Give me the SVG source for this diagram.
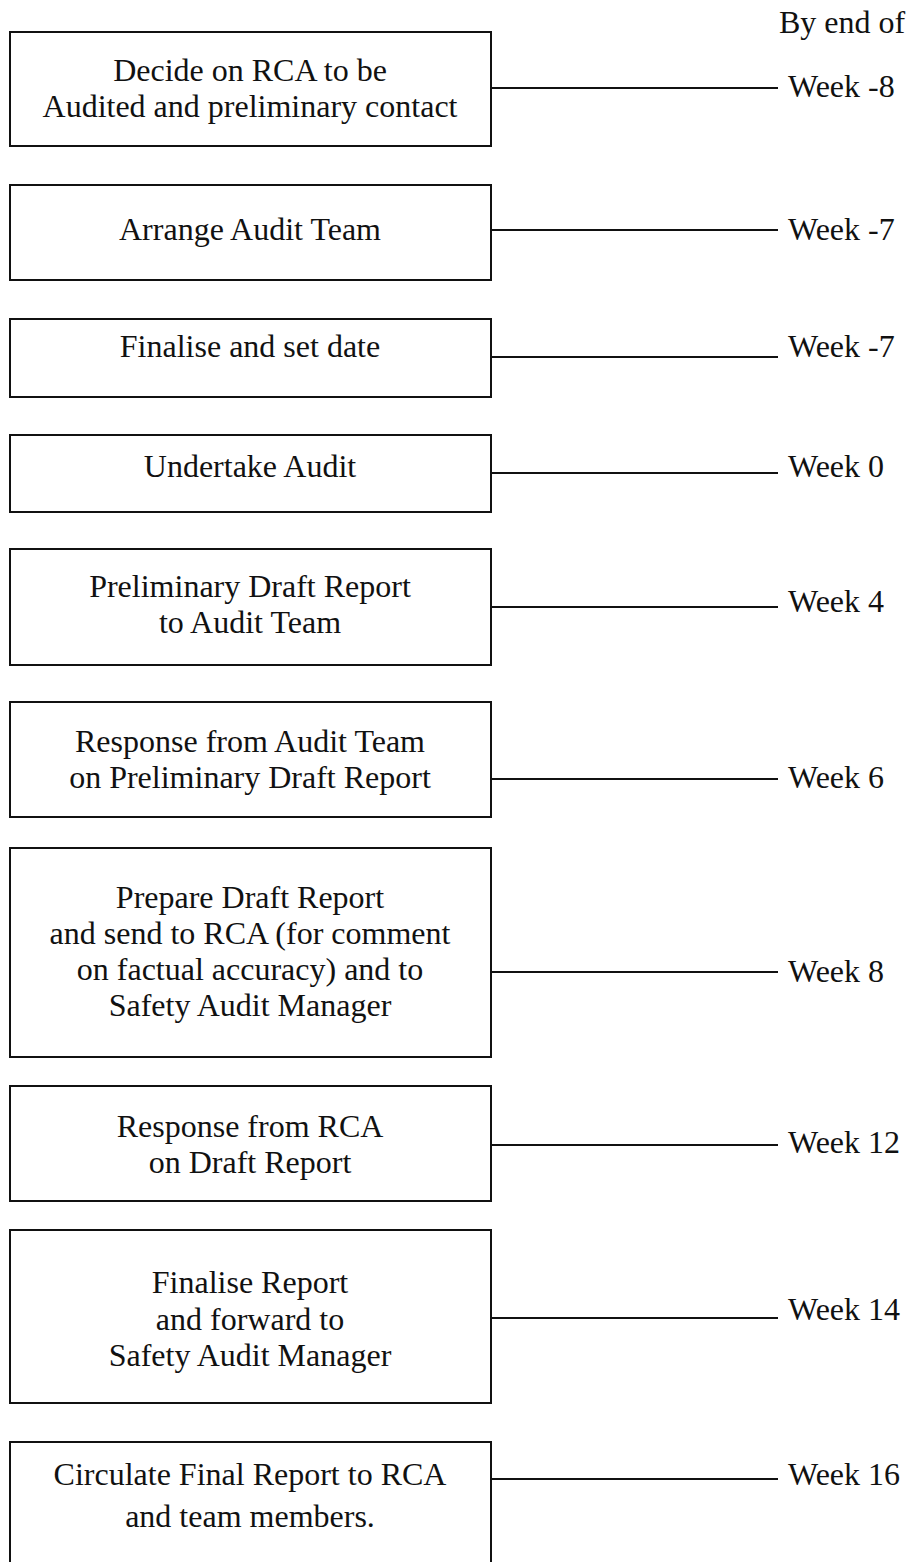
<svg xmlns="http://www.w3.org/2000/svg" width="911" height="1562" viewBox="0 0 911 1562">
<style>
.box{fill:#fff;stroke:#111;stroke-width:2}
.t{font-family:"Liberation Serif","Times New Roman",serif;font-size:32px;fill:#111}
.c{text-anchor:middle}
.con line{stroke:#111;stroke-width:2}
</style>
<rect width="911" height="1562" fill="#fff"/>
<text class="t" x="779" y="33">By end of</text>
<g id="n1"><rect class="box" x="10" y="32" width="481" height="114"/>
<text class="t c" x="250" y="81">Decide on RCA to be</text>
<text class="t c" x="250" y="117">Audited and preliminary contact</text>
<text class="t" x="788" y="97">Week -8</text></g>
<g id="n2"><rect class="box" x="10" y="185" width="481" height="95"/>
<text class="t c" x="250" y="240">Arrange Audit Team</text>
<text class="t" x="788" y="240">Week -7</text></g>
<g id="n3"><rect class="box" x="10" y="319" width="481" height="78"/>
<text class="t c" x="250" y="357">Finalise and set date</text>
<text class="t" x="788" y="357">Week -7</text></g>
<g id="n4"><rect class="box" x="10" y="435" width="481" height="77"/>
<text class="t c" x="250" y="477">Undertake Audit</text>
<text class="t" x="788" y="477">Week 0</text></g>
<g id="n5"><rect class="box" x="10" y="549" width="481" height="116"/>
<text class="t c" x="250" y="597">Preliminary Draft Report</text>
<text class="t c" x="250" y="633">to Audit Team</text>
<text class="t" x="788" y="612">Week 4</text></g>
<g id="n6"><rect class="box" x="10" y="702" width="481" height="115"/>
<text class="t c" x="250" y="752">Response from Audit Team</text>
<text class="t c" x="250" y="788">on Preliminary Draft Report</text>
<text class="t" x="788" y="788">Week 6</text></g>
<g id="n7"><rect class="box" x="10" y="848" width="481" height="209"/>
<text class="t c" x="250" y="908">Prepare Draft Report</text>
<text class="t c" x="250" y="944">and send to RCA (for comment</text>
<text class="t c" x="250" y="980">on factual accuracy) and to</text>
<text class="t c" x="250" y="1016">Safety Audit Manager</text>
<text class="t" x="788" y="982">Week 8</text></g>
<g id="n8"><rect class="box" x="10" y="1086" width="481" height="115"/>
<text class="t c" x="250" y="1137">Response from RCA</text>
<text class="t c" x="250" y="1173">on Draft Report</text>
<text class="t" x="788" y="1153">Week 12</text></g>
<g id="n9"><rect class="box" x="10" y="1230" width="481" height="173"/>
<text class="t c" x="250" y="1293">Finalise Report</text>
<text class="t c" x="250" y="1330">and forward to</text>
<text class="t c" x="250" y="1366">Safety Audit Manager</text>
<text class="t" x="788" y="1320">Week 14</text></g>
<g id="n10"><rect class="box" x="10" y="1442" width="481" height="140"/>
<text class="t c" x="250" y="1485">Circulate Final Report to RCA</text>
<text class="t c" x="250" y="1527">and team members.</text>
<text class="t" x="788" y="1485">Week 16</text></g>
<g id="connectors" class="con">
<line x1="491" y1="88" x2="778" y2="88"/>
<line x1="491" y1="230" x2="778" y2="230"/>
<line x1="491" y1="357" x2="778" y2="357"/>
<line x1="491" y1="473" x2="778" y2="473"/>
<line x1="491" y1="607" x2="778" y2="607"/>
<line x1="491" y1="779" x2="778" y2="779"/>
<line x1="491" y1="972" x2="778" y2="972"/>
<line x1="491" y1="1145" x2="778" y2="1145"/>
<line x1="491" y1="1318" x2="778" y2="1318"/>
<line x1="491" y1="1479" x2="778" y2="1479"/>
</g>
</svg>
